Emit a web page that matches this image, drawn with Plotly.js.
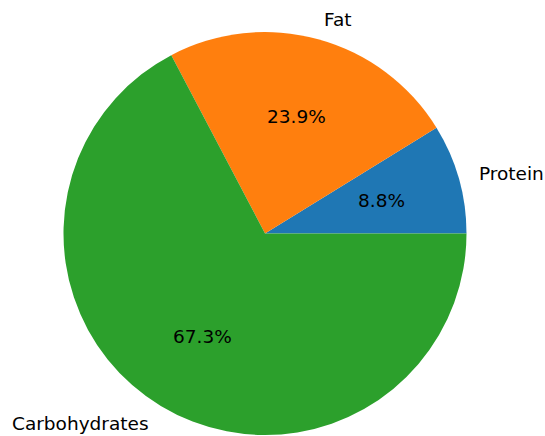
<!DOCTYPE html>
<html>
<head>
<meta charset="utf-8">
<script src="https://cdn.plot.ly/plotly-3.0.1.min.js"></script>
<style>html,body{margin:0;padding:0;background:#fff;}#chart{width:545px;height:436px;}</style>
</head>
<body>
<div id="chart"></div>
<script>
const labels = ["Protein", "Fat", "Carbohydrates"];
const values = [8.8, 23.9, 67.3];
const colors = ["#1f77b4", "#ff7f0e", "#2ca02c"];

const W = 545, H = 436;
const cx = 265, cy = 233.5, R = 201.5;
const fontFamily = "DejaVu Sans, sans-serif";
const fontSize = 18.5;

const total = values.reduce((a, b) => a + b, 0);
const annotations = [];
let start = 0;
values.forEach((v, i) => {
  const frac = v / total;
  const mid = (start + frac / 2) * 2 * Math.PI;
  start += frac;
  const dx = Math.cos(mid), dy = Math.sin(mid);
  const lx = cx + 1.1 * R * dx, ly = cy - 1.1 * R * dy;
  annotations.push({
    xref: "paper", yref: "paper", x: lx / W, y: 1 - ly / H,
    text: labels[i], showarrow: false, borderpad: 0,
    xanchor: dx > 0 ? "left" : "right", yanchor: "middle",
    font: {family: fontFamily, size: fontSize, color: "#000"}
  });
  const px = cx + 0.6 * R * dx, py = cy - 0.6 * R * dy;
  annotations.push({
    xref: "paper", yref: "paper", x: px / W, y: 1 - py / H,
    text: (100 * frac).toFixed(1) + "%", showarrow: false, borderpad: 0,
    xanchor: "center", yanchor: "middle",
    font: {family: fontFamily, size: fontSize, color: "#000"}
  });
});

// first slice should begin at 3 o'clock and run counterclockwise
const rotation = 90 - 360 * values[0] / total;

const trace = {
  type: "pie",
  labels: labels,
  values: values,
  sort: false,
  direction: "counterclockwise",
  rotation: rotation,
  marker: {colors: colors, line: {width: 0}},
  textinfo: "none",
  hoverinfo: "none",
  showlegend: false,
  domain: {x: [(cx - R) / W, (cx + R) / W], y: [(H - cy - R) / H, (H - cy + R) / H]}
};

Plotly.newPlot("chart", [trace], {
  width: W, height: H,
  margin: {l: 0, r: 0, t: 0, b: 0},
  paper_bgcolor: "#fff",
  showlegend: false,
  annotations: annotations
}, {staticPlot: true});
</script>
</body>
</html>
